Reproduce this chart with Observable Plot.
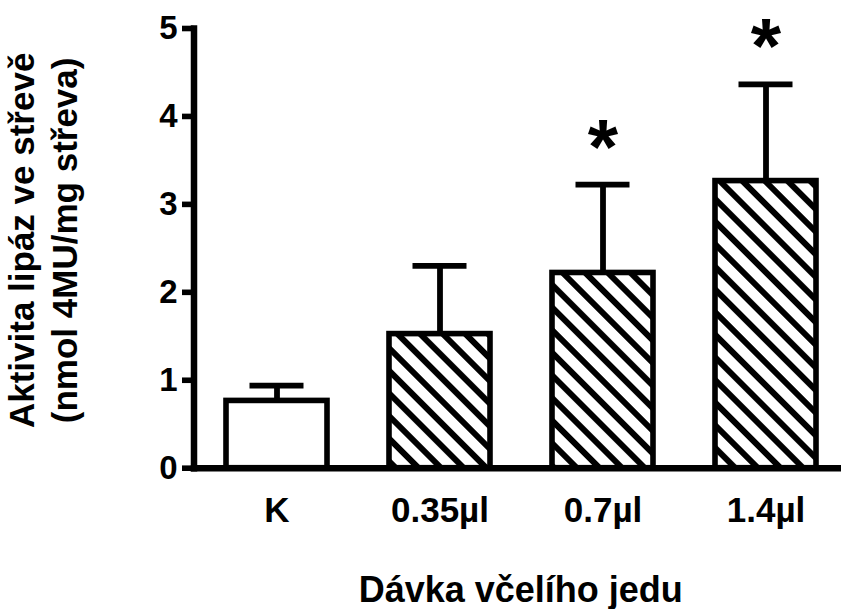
<!DOCTYPE html>
<html><head><meta charset="utf-8">
<script src="https://cdn.jsdelivr.net/npm/d3@7"></script>
<script src="https://cdn.jsdelivr.net/npm/@observablehq/plot@0.6"></script>
<style>html,body{margin:0;padding:0;background:#fff} svg{display:block}</style>
</head><body><div id="chart"></div>
<script>
const categories = ["K", "0.35µl", "0.7µl", "1.4µl"];
const means = [0.765, 1.525, 2.22, 3.265];
const errors = [0.175, 0.775, 1.005, 1.10];
const hatched = [false, true, true, true];
const significant = [false, false, true, true];
const yTicks = [0, 1, 2, 3, 4, 5];
const xTitle = "Dávka včelího jedu";
const yTitle = "Aktivita lipáz ve střevě\n(nmol 4MU/mg střeva)";

const data = categories.map((c, i) => ({
  cat: c, mean: means[i], top: means[i] + errors[i],
  fillUrl: hatched[i] ? "url(#hatch)" : "white", sig: significant[i]
}));

const font = "'Liberation Sans', Arial, Helvetica, sans-serif";
const chart = Plot.plot({
  width: 841, height: 609,
  marginLeft: 193.5, marginRight: 0, marginTop: 28, marginBottom: 141.3,
  style: {fontFamily: font, fontWeight: "bold", background: "white", color: "black", overflow: "visible"},
  x: {domain: categories, paddingInner: 0.382, paddingOuter: 0.171, align: 0.5625},
  y: {domain: [0, 5]},
  color: {type: "identity"},
  marks: [
    Plot.barY(data, {x: "cat", y: "mean", fill: "fillUrl", stroke: "black", strokeWidth: 5.6}),
    Plot.ruleX(data, {x: "cat", y1: "mean", y2: "top", stroke: "black", strokeWidth: 5.8}),
    Plot.tickY(data, {x: "cat", y: "top", stroke: "black", strokeWidth: 5.8, insetLeft: 23.5, insetRight: 23.5}),
    Plot.text(data.filter(d => d.sig), {x: "cat", y: "top", text: () => "*", fontSize: 78, lineAnchor: "middle", dy: -36}),
    Plot.axisY({ticks: yTicks, tickSize: 11.5, tickPadding: 5, strokeWidth: 5.6, fontSize: 33, label: null, tickFormat: d => String(d)}),
    Plot.axisX({tickSize: 0, tickPadding: 29, fontSize: 35, label: null}),
    Plot.frame({anchor: "left", stroke: "black", strokeWidth: 6.5, strokeLinecap: "square"}),
    Plot.frame({anchor: "bottom", stroke: "black", strokeWidth: 6.5}),
    Plot.text([xTitle], {frameAnchor: "bottom", lineAnchor: "bottom", dy: 133.5, dx: 3, fontSize: 36}),
    Plot.text([yTitle], {frameAnchor: "left", textAnchor: "middle", rotate: -90, lineAnchor: "top", lineHeight: 1.24, fontSize: 35, dx: 2.5 - 193.5, dy: -8})
  ]
});

const svg = d3.select(chart);
const defs = svg.insert("defs", ":first-child");
const pat = defs.append("pattern")
  .attr("id", "hatch").attr("patternUnits", "userSpaceOnUse")
  .attr("width", 16).attr("height", 16).attr("patternTransform", "rotate(45)");
pat.append("rect").attr("width", 16).attr("height", 16).attr("fill", "white");
pat.append("rect").attr("width", 16).attr("height", 6).attr("fill", "black");

document.getElementById("chart").appendChild(chart);
</script>
</body></html>
